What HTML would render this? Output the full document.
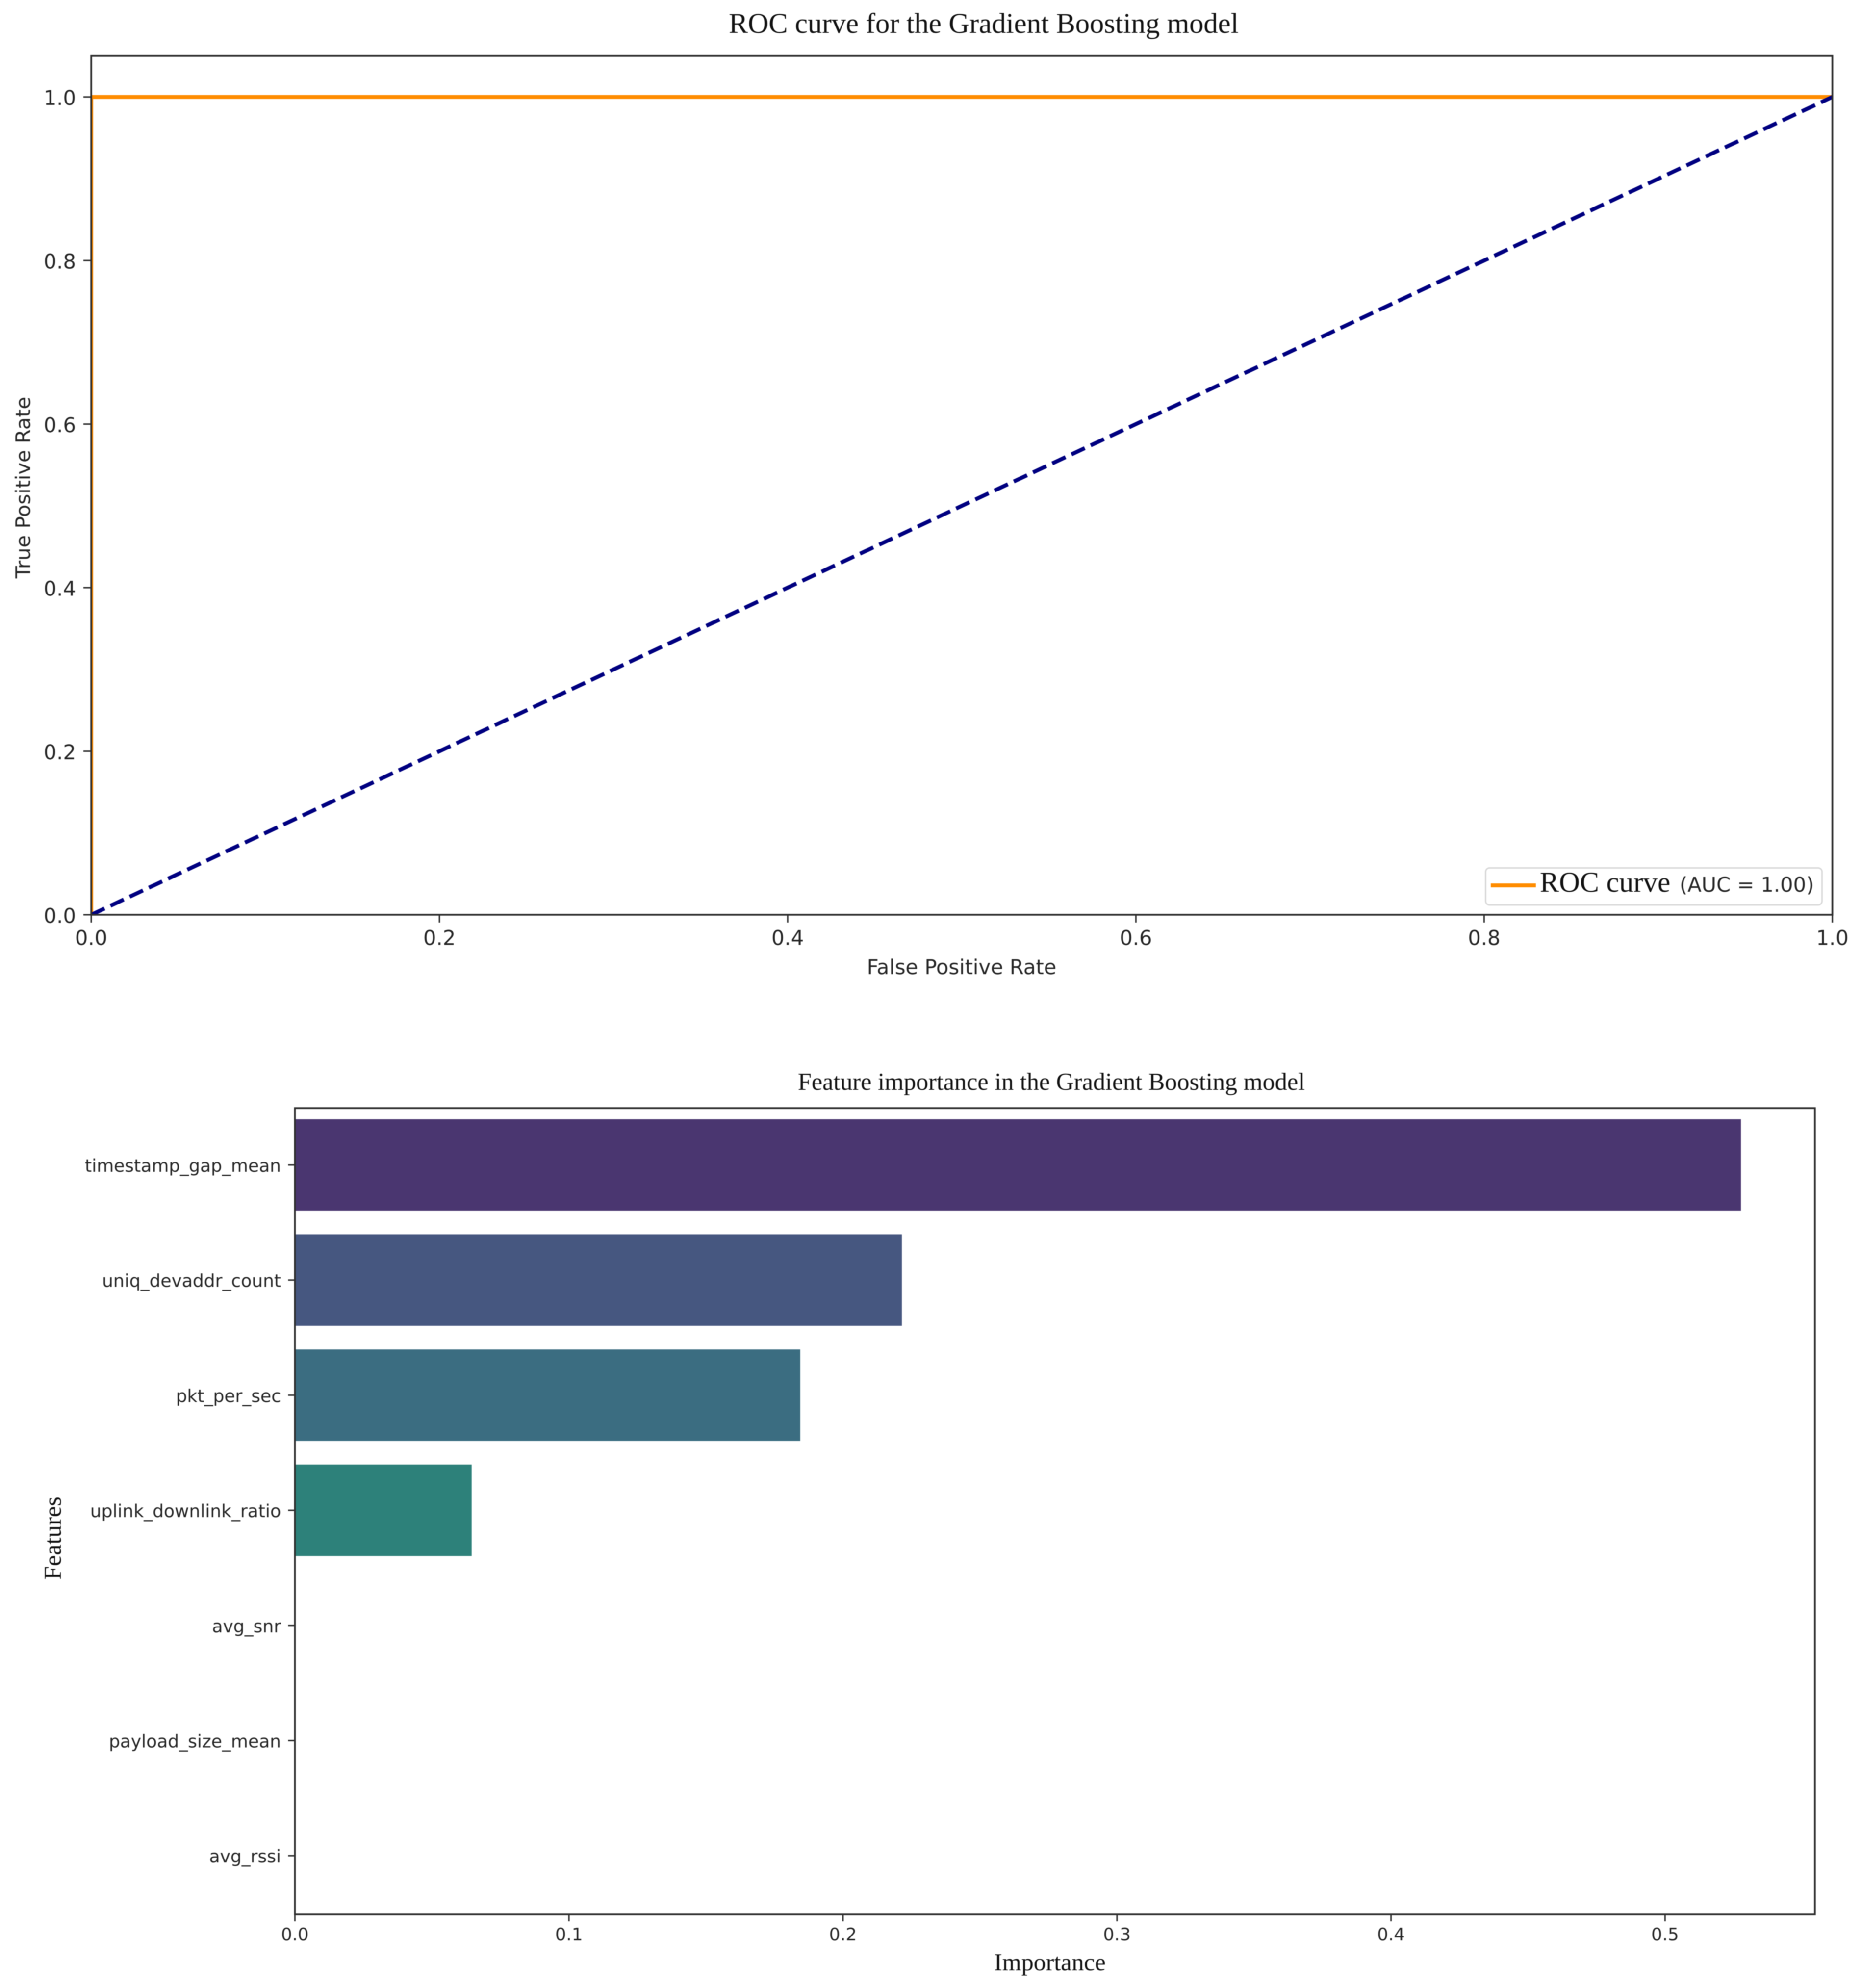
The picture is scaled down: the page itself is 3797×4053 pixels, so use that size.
<!DOCTYPE html>
<html lang="en">
<head>
<meta charset="utf-8">
<title>Gradient Boosting model charts</title>
<style>
  html, body { margin: 0; padding: 0; background: #fff; }
  body { width: 3797px; height: 4053px; overflow: hidden; }
  svg { display: block; text-rendering: geometricPrecision; filter: blur(0.8px); }
  .dv { font-family: "DejaVu Sans", "Liberation Sans", sans-serif; fill: #262626; }
  .sf { font-family: "Liberation Serif", serif; fill: #111; }
</style>
</head>
<body>
<svg id="figure" xmlns="http://www.w3.org/2000/svg" width="3797" height="4053" viewBox="0 0 3797 4053">
  <rect x="0" y="0" width="3797" height="4053" fill="#fff"/>
  <defs>
    <clipPath id="roc-clip"><rect x="186" y="114" width="3550.6" height="1751"/></clipPath>
  </defs>

  <text class="sf" x="2006" y="67" font-size="58.5" text-anchor="middle">ROC curve for the Gradient Boosting model</text>
  <g id="roc-marks" clip-path="url(#roc-clip)"></g>
  <g id="roc-axes"></g>
  <text class="dv" x="1961" y="1986" font-size="41.6" text-anchor="middle">False Positive Rate</text>
  <text class="dv" x="0" y="0" font-size="41.6" text-anchor="middle" transform="translate(61.5 994) rotate(-90)">True Positive Rate</text>

  <g>
    <rect x="3029.5" y="1769.5" width="686" height="75.5" rx="8" ry="8" fill="#fff" stroke="#d9d9d9" stroke-width="3"/>
    <line x1="3040" y1="1805" x2="3132" y2="1805" stroke="#ff8c00" stroke-width="8"/>
    <text class="sf" x="3140" y="1818" font-size="58.8">ROC curve</text>
    <text class="dv" x="3425" y="1818" font-size="41.6">(AUC = 1.00)</text>
  </g>

  <text class="sf" x="2144" y="2222" font-size="50.2" text-anchor="middle">Feature importance in the Gradient Boosting model</text>
  <g id="bar-marks"></g>
  <g id="bar-axes"></g>
  <text class="sf" x="2141" y="4017" font-size="50" text-anchor="middle">Importance</text>
  <text class="sf" x="0" y="0" font-size="50" text-anchor="middle" transform="translate(124 3136) rotate(-90)">Features</text>
</svg>

<script>
const rocFpr = [0, 0, 1];
const rocTpr = [0, 1, 1];
const chanceFpr = [0, 1];
const chanceTpr = [0, 1];
const rocXTicks = [0, 0.2, 0.4, 0.6, 0.8, 1];
const rocYTicks = [0, 0.2, 0.4, 0.6, 0.8, 1];
const rocTickLabels = ['0.0', '0.2', '0.4', '0.6', '0.8', '1.0'];

const featureNames = ['timestamp_gap_mean', 'uniq_devaddr_count', 'pkt_per_sec', 'uplink_downlink_ratio', 'avg_snr', 'payload_size_mean', 'avg_rssi'];
const featureImportance = [0.5277, 0.2215, 0.1844, 0.0645, 0, 0, 0];
const importanceTicks = [0, 0.1, 0.2, 0.3, 0.4, 0.5];
const importanceTickLabels = ['0.0', '0.1', '0.2', '0.3', '0.4', '0.5'];
const barPalette = ['#4a3670', '#465780', '#3b6d81', '#2d817a', '#3a9a70', '#6eb15d', '#b2c455'];

const NS = 'http://www.w3.org/2000/svg';
const AXIS_COLOR = '#2e2e2e';

function make(tag, parent, attrs, text) {
  const el = document.createElementNS(NS, tag);
  for (const k in attrs) el.setAttribute(k, attrs[k]);
  if (text !== undefined) el.textContent = text;
  parent.appendChild(el);
  return el;
}

/* ROC axis functions */
const rocX = v => 186 + v * 3550.6;
const rocY = v => 1865 - v * 1667.3;

const rocMarks = document.getElementById('roc-marks');
const rocAxes = document.getElementById('roc-axes');

const rocLine = make('polyline', rocMarks, {
  points: rocFpr.map((v, i) => rocX(v) + ',' + rocY(rocTpr[i])).join(' '),
  fill: 'none', stroke: '#ff8c00', 'stroke-width': 8, 'stroke-linejoin': 'round'
});



const chanceLine = make('polyline', rocMarks, {
  points: chanceFpr.map((v, i) => rocX(v) + ',' + rocY(chanceTpr[i])).join(' '),
  fill: 'none', stroke: '#000080', 'stroke-width': 8, 'stroke-dasharray': '30 13.3'
});



const rocFrame = make('rect', rocAxes, {
  x: rocX(0), y: 114, width: rocX(1) - rocX(0), height: 1865 - 114,
  fill: 'none', stroke: AXIS_COLOR, 'stroke-width': 3.6
});



rocXTicks.forEach((v, i) => {
  const tick = make('line', rocAxes, { x1: rocX(v), x2: rocX(v), y1: 1865, y2: 1881, stroke: AXIS_COLOR, 'stroke-width': 3 });
  
  
  const label = make('text', rocAxes, { class: 'dv', x: rocX(v), y: 1926.5, 'font-size': 41.6, 'text-anchor': 'middle' }, rocTickLabels[i]);
  
  
});

rocYTicks.forEach((v, i) => {
  const tick = make('line', rocAxes, { x1: 170, x2: 186, y1: rocY(v), y2: rocY(v), stroke: AXIS_COLOR, 'stroke-width': 3 });
  
  
  const label = make('text', rocAxes, { class: 'dv', x: 155, y: rocY(v) + 16.5, 'font-size': 41.6, 'text-anchor': 'end' }, rocTickLabels[i]);
  
  
});

/* Importance axis functions */
const impX = v => 601.4 + v * 5588;
const impY = i => 2375 + i * 234.7;
const BAR_HEIGHT = 186.5;

const barMarks = document.getElementById('bar-marks');
const barAxes = document.getElementById('bar-axes');

featureNames.forEach((name, i) => {
  const bar = make('rect', barMarks, {
    x: impX(0), y: impY(i) - BAR_HEIGHT / 2,
    width: impX(featureImportance[i]) - impX(0), height: BAR_HEIGHT,
    fill: barPalette[i]
  });
  
  
});

const impFrame = make('rect', barAxes, {
  x: impX(0), y: 2259, width: 3701 - impX(0), height: 3903 - 2259,
  fill: 'none', stroke: AXIS_COLOR, 'stroke-width': 3.6
});



importanceTicks.forEach((v, i) => {
  const tick = make('line', barAxes, { x1: impX(v), x2: impX(v), y1: 3903, y2: 3917, stroke: AXIS_COLOR, 'stroke-width': 3 });
  
  
  const label = make('text', barAxes, { class: 'dv', x: impX(v), y: 3956, 'font-size': 35.5, 'text-anchor': 'middle' }, importanceTickLabels[i]);
  
  
});

featureNames.forEach((name, i) => {
  const tick = make('line', barAxes, { x1: 587.5, x2: 601.4, y1: impY(i), y2: impY(i), stroke: AXIS_COLOR, 'stroke-width': 3 });
  
  
  const label = make('text', barAxes, { class: 'dv', x: 573, y: impY(i) + 14, 'font-size': 36, 'text-anchor': 'end' }, name);
  
  
});
</script>
</body>
</html>
